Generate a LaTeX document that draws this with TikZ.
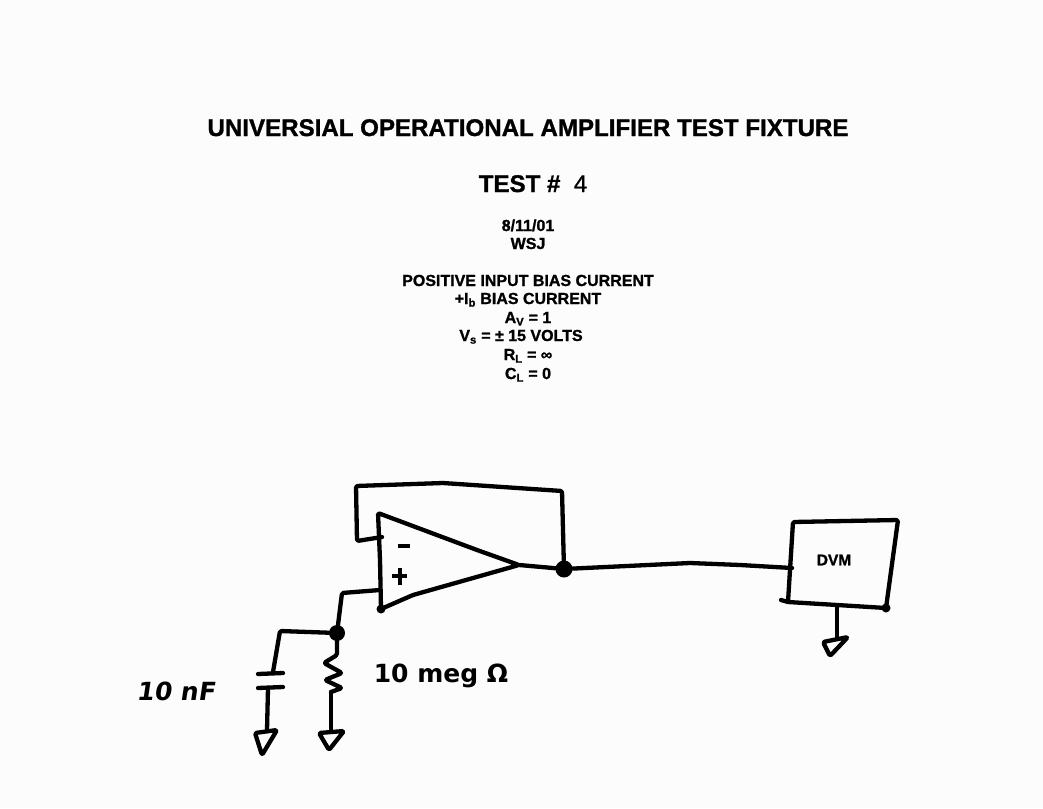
\documentclass[tikz,border=0pt]{standalone}
\usepackage{fontspec}
\setmainfont{Liberation Sans}
\newfontfamily\handfont{DejaVu Sans}
\newfontfamily\heavyfont[UprightFont={* Bold},UprightFeatures={FakeBold=1.2}]{Liberation Sans}
\newfontfamily\regfont[FakeBold=0.6]{Liberation Sans}
\tikzset{
  wire/.style={line width=4.3pt,line cap=round,line join=round,rounded corners=1.5pt},
  junction/.style={circle,fill=black,inner sep=0pt,minimum size=#1},
  title/.style={font=\heavyfont\fontsize{24.1}{26}\selectfont,inner sep=0pt,anchor=base},
  sub/.style={font=\heavyfont\fontsize{16}{18}\selectfont,inner sep=0pt,anchor=base},
  hand/.style={font=\handfont\bfseries\fontsize{#1}{#1}\selectfont,inner sep=0pt},
}
\begin{document}
\begin{tikzpicture}[x=1pt,y=-1pt]
\useasboundingbox (0,0) rectangle (1043,808);
\fill[black!1] (0,0) rectangle (1043,808);
% Text
\node[title] (t1) at (528,136) {UNIVERSIAL OPERATIONAL AMPLIFIER TEST FIXTURE};
\node[title] (t2) at (533,192) {TEST \#\ \ {\regfont 4}};
\node[sub] (t3) at (528,231) {8/11/01};
\node[sub] (t4) at (528,249) {WSJ};
\node[sub] (t5) at (528,286) {POSITIVE INPUT BIAS CURRENT};
\node[sub] (t6) at (528,304) {+I\textsubscript{b} BIAS CURRENT};
\node[sub] (t7) at (528,323) {A\textsubscript{V} = 1};
\node[sub] (t8) at (521,341) {V\textsubscript{s} = ± 15 VOLTS};
\node[sub] (t9) at (528,360) {R\textsubscript{L} = ∞};
\node[sub] (t10) at (528,379) {C\textsubscript{L} = 0};
% Named points
\coordinate (oa-top) at (378,513);
\coordinate (oa-bot) at (381,609);
\coordinate (oa-out) at (519,565);
\coordinate (oa-neg) at (382,537);
\coordinate (oa-pos) at (380,590);
\node[junction=17pt] (nout) at (564,569) {};
\node[junction=16pt] (nin) at (337,633) {};
\coordinate (dvm-in) at (792,568);
\coordinate (capt) at (273,672);
\coordinate (capb) at (268,688);
\coordinate (rest) at (337,655);
\coordinate (resb) at (331,692);
% Op-amp
\draw[wire] (oa-top) -- (380,560) -- (oa-bot) -- (413,595) -- (oa-out) -- (477,550) -- cycle;
\fill (oa-bot) circle (4.5pt);
\node[inner sep=0pt] (oam) at (404,546) {\tikz[x=1pt,y=1pt]\draw[line width=4pt] (0,0) -- (12,0);};
\node[inner sep=0pt] (oap) at (399,576) {\tikz[x=1pt,y=1pt]\draw[line width=4pt] (-8,0) -- (7,0) (0,-8.5) -- (0,8.5);};
% Feedback and output
\draw[wire] (oa-neg) -- (357,541) -- (356,486) -- (443,483) -- (562,491) -- (nout);
\draw[wire] (oa-out) -- (nout);
\draw[wire] (nout) -- (690,563) -- (740,565) -- (dvm-in);
% DVM
\draw[wire] (793,522) -- (898,520) -- (886,608) -- (788,602) -- cycle;
\draw[wire] (788,602) -- (781,600);
\fill (886,608) circle (4.5pt);
\node[sub,font=\heavyfont\fontsize{15.5}{17}\selectfont,anchor=center] (dvm) at (834,560) {DVM};
\coordinate (dvm-g) at (837,606);
\coordinate (g3) at (837,637);
\draw[wire] (dvm-g) -- (g3);
\draw[wire] (823,642) -- (848,637) -- (830,656) -- cycle;
% Input network
\draw[wire] (oa-pos) -- (342,593) -- (nin);
\draw[wire] (nin) -- (280,631) -- (capt);
\draw[wire] (258,674) -- (283,673);
\draw[wire] (258,688) -- (283,687);
\coordinate (g1) at (267,730);
\draw[wire] (capb) -- (g1);
\draw[wire] (255,733) -- (277,730) -- (262,755) -- cycle;
\draw[wire] (nin) -- (rest) -- (324,663) -- (342,673) -- (325,680) -- (342,688) -- (resb);
\coordinate (g2) at (331,730);
\draw[wire] (resb) -- (g2);
\draw[wire] (319,733) -- (344,731) -- (329,750) -- cycle;
% Handwritten labels
\node[hand=25,xslant=0.15] (lc) at (177,691) {10 nF};
\node[hand=25] (lr) at (441,676) {10 meg Ω};
\end{tikzpicture}
\end{document}
